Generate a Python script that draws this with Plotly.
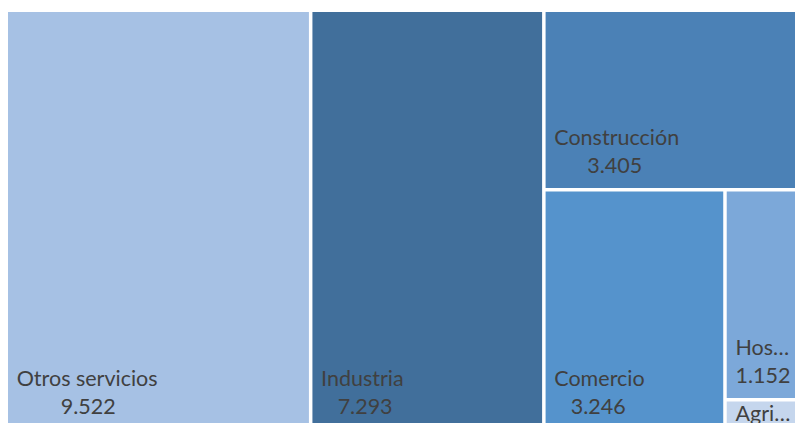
import plotly.graph_objects as go

# ---- data ----
labels = ["Otros servicios", "Industria", "Construcción", "Comercio", "Hostelería", "Agricultura"]
display_labels = ["Otros servicios", "Industria", "Construcción", "Comercio", "Hos…", "Agri…"]
values = [9522, 7293, 3405, 3246, 1152, 170]
show_value = [True, True, True, True, True, False]

# ---- style ----
colors = ["#A6C1E4", "#416F9B", "#4B81B6", "#5593CC", "#7CA8D9", "#C5D6ED"]
FONT = "Lato"
FS = 21.5      # visible text size
BASE = 7.4     # base size (controls line step & padding)
NB = "\u00a0"
NBW = 0.255    # approx. width of a no-break space (em)

# rough Lato advance widths (em) for centering the value line under the label
W = {' ': .193, '.': .24, '…': .78, 'O': .75, 'I': .28, 'C': .65, 'H': .75, 'A': .67,
     'a': .5, 'c': .46, 'd': .56, 'e': .52, 'g': .5, 'i': .25, 'm': .84, 'n': .56,
     'o': .56, 'r': .37, 's': .43, 't': .36, 'u': .56, 'v': .52, 'ó': .56}
def width(s):
    return sum(W.get(ch, .58) for ch in s)

def fmt(v):
    return f"{v:,}".replace(",", ".")

def big(s):
    return f'<span style="font-size:{FS}px">{s}</span>'

indent = NB * 3
texts = []
for lab, v, sv in zip(display_labels, values, show_value):
    if sv:
        val = fmt(v)
        n = max(0, round((width(lab) - width(val)) / 2 / NBW))
        texts.append(indent + big(lab) + "<br><br><br>" + indent + big(NB * n + val) + "<br>" + NB)
    else:
        texts.append(indent + big(lab))

fig = go.Figure(go.Treemap(
    labels=labels,
    parents=[""] * len(labels),
    values=values,
    text=texts,
    texttemplate="%{text}",
    textposition="bottom left",
    sort=True,
    marker=dict(colors=colors, line=dict(width=0), pad=dict(t=0, l=0, r=0, b=0)),
    tiling=dict(packing="squarify", squarifyratio=1, pad=3.5),
    pathbar=dict(visible=False),
    textfont=dict(family=FONT, size=BASE, color="#404040"),
    hoverinfo="label+value",
))

fig.update_layout(
    width=797, height=429,
    margin=dict(l=8, r=0, t=12, b=0),
    paper_bgcolor="white",
    uniformtext=dict(minsize=BASE, mode="show"),
    showlegend=False,
)

fig.write_html("out.html", config={"displayModeBar": False},
               post_script="document.body.style.margin='0px';document.body.style.overflow='hidden';")
